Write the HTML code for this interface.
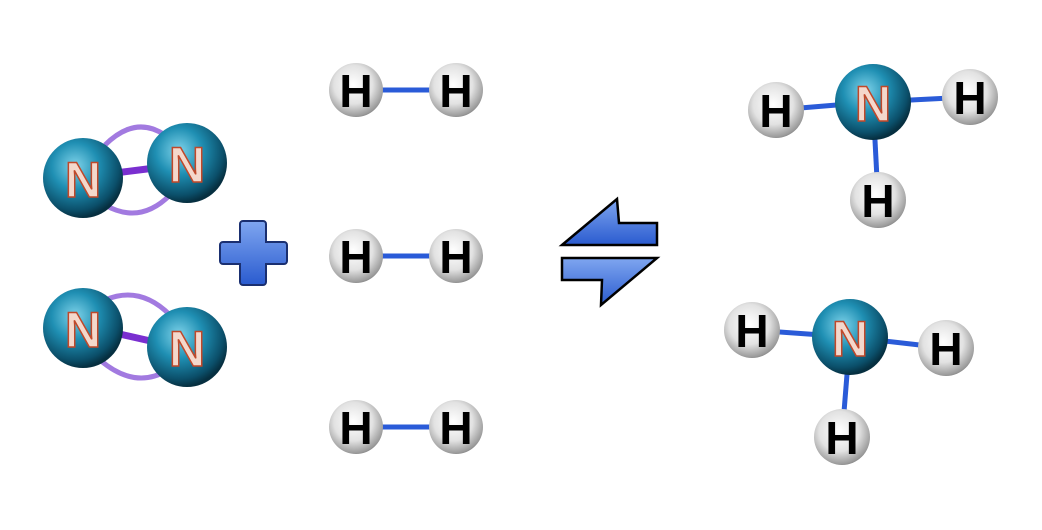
<!DOCTYPE html>
<html><head><style>body{margin:0;background:#fff}svg{display:block}</style></head><body>
<svg width="1042" height="530" viewBox="0 0 1042 530" xmlns="http://www.w3.org/2000/svg">
<defs>
<radialGradient id="gN" cx="0.4" cy="0.35" r="0.65">
<stop offset="0" stop-color="#7fd3ea"/><stop offset="0.45" stop-color="#1f8fb3"/><stop offset="0.85" stop-color="#0b4f6a"/><stop offset="1" stop-color="#062f40"/></radialGradient>
<radialGradient id="gH" cx="0.45" cy="0.4" r="0.65">
<stop offset="0" stop-color="#ffffff"/><stop offset="0.55" stop-color="#e2e2e2"/><stop offset="0.9" stop-color="#9a9a9a"/><stop offset="1" stop-color="#707070"/></radialGradient>
<linearGradient id="gA" x1="0" y1="0" x2="0" y2="1"><stop offset="0" stop-color="#7fa6f0"/><stop offset="1" stop-color="#2a5bcf"/></linearGradient>
</defs>
<style>
.hl{font-family:"Liberation Sans",sans-serif;font-weight:bold;font-size:46px;fill:#000;text-anchor:middle}
.nl{font-family:"Liberation Sans",sans-serif;font-weight:bold;font-size:50px;fill:#f4d8cc;stroke:#c0482a;stroke-width:1.5;text-anchor:middle}
.bond{stroke:#2a5bd8;stroke-width:5}
.tb{stroke:#a27ae0;stroke-width:5;fill:none}
</style>
<g>
<path d="M105 145 Q135 115 165 135" class="tb"/><path d="M105 205 Q140 225 170 195" class="tb"/>
<line x1="115" y1="173" x2="155" y2="168" stroke="#7a2fd0" stroke-width="7"/>
<circle cx="83" cy="178" r="40" fill="url(#gN)"/><text x="83" y="197" class="nl">N</text>
<circle cx="187" cy="163" r="40" fill="url(#gN)"/><text x="187" y="182" class="nl">N</text>
</g>
<g>
<path d="M105 300 Q140 285 170 315" class="tb"/><path d="M100 360 Q135 390 168 370" class="tb"/>
<line x1="115" y1="333" x2="155" y2="342" stroke="#7a2fd0" stroke-width="7"/>
<circle cx="83" cy="328" r="40" fill="url(#gN)"/><text x="83" y="347" class="nl">N</text>
<circle cx="187" cy="347" r="40" fill="url(#gN)"/><text x="187" y="366" class="nl">N</text>
</g>
<path d="M243 221 h20 a3 3 0 0 1 3 3 v18 h18 a3 3 0 0 1 3 3 v16 a3 3 0 0 1 -3 3 h-18 v18 a3 3 0 0 1 -3 3 h-20 a3 3 0 0 1 -3 -3 v-18 h-17 a3 3 0 0 1 -3 -3 v-16 a3 3 0 0 1 3 -3 h17 v-18 a3 3 0 0 1 3 -3z" fill="url(#gA)" stroke="#1a2f70" stroke-width="2"/>
<g id="h2">
<line x1="380" y1="90" x2="432" y2="90" class="bond"/>
<circle cx="356" cy="90" r="27" fill="url(#gH)"/><text x="356" y="107" class="hl">H</text>
<circle cx="456" cy="90" r="27" fill="url(#gH)"/><text x="456" y="107" class="hl">H</text>
</g>
<use href="#h2" y="166"/>
<use href="#h2" y="337"/>
<path d="M562 245 L617 199 L619 223 L657 223 L657 245 Z" fill="url(#gA)" stroke="#000" stroke-width="2.5"/>
<path d="M562 258 L657 258 L601 305 L602 280 L562 280 Z" fill="url(#gA)" stroke="#000" stroke-width="2.5"/>
<g>
<line x1="776" y1="110" x2="873" y2="102" class="bond"/><line x1="873" y1="102" x2="970" y2="97" class="bond"/><line x1="873" y1="102" x2="878" y2="198" class="bond"/>
<circle cx="873" cy="102" r="38" fill="url(#gN)"/><text x="873" y="121" class="nl">N</text>
<circle cx="776" cy="110" r="28" fill="url(#gH)"/><text x="776" y="127" class="hl">H</text>
<circle cx="970" cy="97" r="28" fill="url(#gH)"/><text x="970" y="114" class="hl">H</text>
<circle cx="878" cy="200" r="28" fill="url(#gH)"/><text x="878" y="217" class="hl">H</text>
</g>
<g>
<line x1="752" y1="330" x2="850" y2="337" class="bond"/><line x1="850" y1="337" x2="946" y2="348" class="bond"/><line x1="850" y1="337" x2="842" y2="437" class="bond"/>
<circle cx="850" cy="337" r="38" fill="url(#gN)"/><text x="850" y="356" class="nl">N</text>
<circle cx="752" cy="330" r="28" fill="url(#gH)"/><text x="752" y="347" class="hl">H</text>
<circle cx="946" cy="348" r="28" fill="url(#gH)"/><text x="946" y="365" class="hl">H</text>
<circle cx="842" cy="437" r="28" fill="url(#gH)"/><text x="842" y="454" class="hl">H</text>
</g>
</svg>
</body></html>
